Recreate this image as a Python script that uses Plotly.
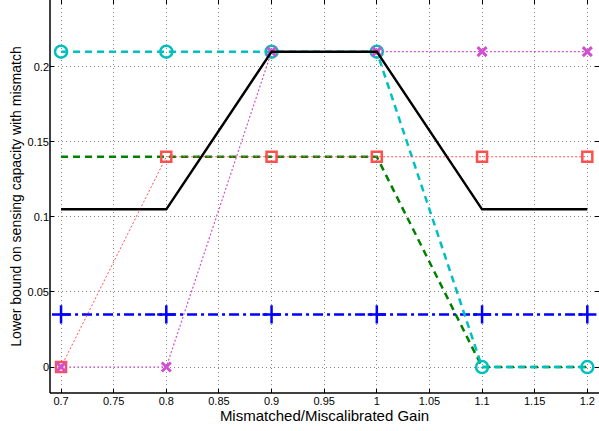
import plotly.graph_objects as go

gain = [0.7, 0.8, 0.9, 1.0, 1.1, 1.2]
blue_plus = [0.035, 0.035, 0.035, 0.035, 0.035, 0.035]
green_dash = [0.14, 0.14, 0.14, 0.14, 0.0, 0.0]
cyan_circ = [0.21, 0.21, 0.21, 0.21, 0.0, 0.0]
red_sq = [0.0, 0.14, 0.14, 0.14, 0.14, 0.14]
mag_x = [0.0, 0.0, 0.21, 0.21, 0.21, 0.21]
black_solid = [0.105, 0.105, 0.21, 0.21, 0.105, 0.105]

xticks = [0.7, 0.75, 0.8, 0.85, 0.9, 0.95, 1.0, 1.05, 1.1, 1.15, 1.2]
xticklabels = ["0.7", "0.75", "0.8", "0.85", "0.9", "0.95", "1", "1.05", "1.1", "1.15", "1.2"]
yticks = [0, 0.05, 0.1, 0.15, 0.2]
yticklabels = ["0", "0.05", "0.1", "0.15", "0.2"]

fig = go.Figure()
fig.add_trace(go.Scatter(x=gain, y=blue_plus, mode="lines+markers",
                         line=dict(color="#0000FF", width=2.5, dash="10px,4px,3px,4px"),
                         marker=dict(symbol="cross-thin-open", size=13, line=dict(color="#0000FF", width=2.5))))
fig.add_trace(go.Scatter(x=gain, y=green_dash, mode="lines",
                         line=dict(color="#008000", width=2.5, dash="7px,5px")))
fig.add_trace(go.Scatter(x=gain, y=cyan_circ, mode="lines+markers",
                         line=dict(color="#00BFBF", width=2.5, dash="7px,5px"),
                         marker=dict(symbol="circle-open", size=12, line=dict(color="#00BFBF", width=2.5))))
fig.add_trace(go.Scatter(x=gain, y=red_sq, mode="lines+markers",
                         line=dict(color="#FF5050", width=1, dash="2px,2px"),
                         marker=dict(symbol="square-open", size=10, line=dict(color="#FF0000", width=2.5))))
fig.add_trace(go.Scatter(x=gain, y=mag_x, mode="lines+markers",
                         line=dict(color="#D050D0", width=1.2, dash="2px,2px"),
                         marker=dict(symbol="x-thin-open", size=9, line=dict(color="#BF00BF", width=3))))
fig.add_trace(go.Scatter(x=gain, y=black_solid, mode="lines",
                         line=dict(color="#000000", width=2.5)))

axis_common = dict(showline=False, mirror="ticks", ticks="inside", ticklen=4, tickcolor="#000",
                   showgrid=True, gridcolor="#888", griddash="1px,3px", gridwidth=1,
                   automargin=False,
                   zeroline=False, tickfont=dict(family="Liberation Sans, Arial", size=11, color="#000"))

fig.update_xaxes(range=[0.6895, 1.2111], tickvals=xticks, ticktext=xticklabels,
                 title=dict(text="Mismatched/Miscalibrated Gain", font=dict(family="Liberation Sans, Arial", size=15, color="#000"), standoff=0),
                 **axis_common)
fig.update_yaxes(range=[-0.0173, 0.2444], tickvals=yticks, ticktext=yticklabels,
                 title=dict(text="Lower bound on sensing capacity with mismatch", font=dict(family="Liberation Sans, Arial", size=14, color="#000"), standoff=2),
                 **axis_common)

fig.add_shape(type="line", xref="paper", yref="paper", x0=0, x1=0, y0=0, y1=1, line=dict(color="#000", width=1.5))
fig.add_shape(type="line", xref="paper", yref="paper", x0=0, x1=1, y0=0, y1=0, line=dict(color="#000", width=1.5))

fig.update_layout(width=599, height=431, margin=dict(l=50, r=0, t=0, b=38),
                  plot_bgcolor="white", paper_bgcolor="white", showlegend=False,
                  font=dict(family="Liberation Sans, Arial"))

fig.write_html("out.html", config={"displayModeBar": False},
               post_script="document.body.style.margin='0px';")
